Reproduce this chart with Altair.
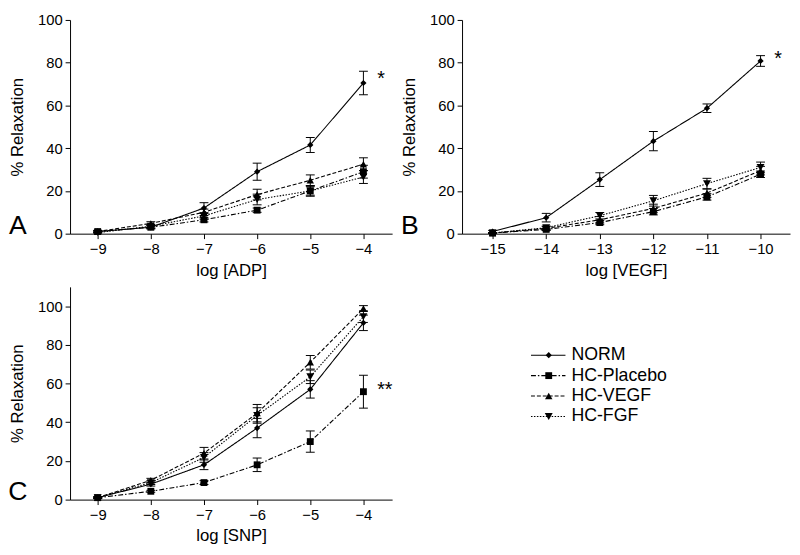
import altair as alt
import pandas as pd

FONT = "Liberation Sans"

series = ["NORM", "HC-Placebo", "HC-VEGF", "HC-FGF"]
shapes = ["diamond", "square", "triangle-up", "triangle-down"]
dashes = [[1, 0], [5, 2, 1.5, 2], [4, 2], [1.5, 1.5]]
sizes = [40, 65, 55, 55]

# Panel A: ADP
x_adp = [-9, -8, -7, -6, -5, -4]
adp_norm = [1, 3, 12, 29, 41.5, 70.5]
adp_norm_err = [0.5, 0.8, 2.5, 4, 3.5, 5.5]
adp_placebo = [1, 3, 6.5, 11, 20, 29]
adp_placebo_err = [0.3, 0.5, 1, 1, 2, 3]
adp_vegf = [1, 4.8, 10, 18.3, 25, 32.5]
adp_vegf_err = [0.3, 0.8, 1.5, 2.5, 2.5, 3]
adp_fgf = [0.5, 3.5, 8.3, 16, 20, 26.5]
adp_fgf_err = [0.3, 0.8, 1.5, 2.5, 2.5, 3]

# Panel B: VEGF
x_vegf = [-15, -14, -13, -12, -11, -10]
vegf_norm = [1, 7.5, 25.3, 43.3, 58.7, 80.8]
vegf_norm_err = [0.5, 2, 3.2, 4.5, 2, 2.5]
vegf_placebo = [0.3, 2, 5.2, 10.3, 17.2, 27.8]
vegf_placebo_err = [0.2, 0.5, 1, 1.5, 1.5, 1.5]
vegf_vegf = [0.3, 2.5, 6.5, 11.8, 19, 29.5]
vegf_vegf_err = [0.2, 0.8, 1.5, 2, 2, 2]
vegf_fgf = [0.3, 2.8, 8.4, 15.4, 23.4, 31]
vegf_fgf_err = [0.2, 0.8, 1.5, 2.5, 2.5, 2.5]

# Panel C: SNP
x_snp = [-9, -8, -7, -6, -5, -4]
snp_norm = [1, 8, 18, 37, 57, 91.4]
snp_norm_err = [0.5, 1, 2.5, 5, 4.5, 4]
snp_placebo = [1, 4.3, 8.8, 18, 30, 55.8]
snp_placebo_err = [0.3, 0.5, 1, 3.5, 5.5, 8.5]
snp_vegf = [1, 10, 24, 44.7, 71, 98.8]
snp_vegf_err = [0.3, 1, 3, 4.5, 3.5, 1.5]
snp_fgf = [1, 8.8, 21.8, 43.5, 63.5, 94.6]
snp_fgf_err = [0.3, 1, 2.5, 4, 3.5, 3]


def long_df(xs, vals, errs):
    rows = []
    for s, v, e in zip(series, vals, errs):
        for xi, yi, ei in zip(xs, v, e):
            rows.append({"x": xi, "y": yi, "lo": yi - ei, "hi": yi + ei, "series": s})
    return pd.DataFrame(rows)


def axis_x(title, ticks):
    return alt.Axis(values=ticks, title=title, grid=False, tickSize=5, format="d",
                    labelFontSize=15, titleFontSize=17, labelFont=FONT, titleFont=FONT,
                    titleFontWeight="normal", labelColor="black", titleColor="black",
                    domainColor="black", tickColor="black", labelPadding=3, titlePadding=6,
                    labelFlush=False)


def axis_y():
    return alt.Axis(values=[0, 20, 40, 60, 80, 100], title="% Relaxation", grid=False,
                    tickSize=5, labelFontSize=15, titleFontSize=17, labelFont=FONT,
                    titleFont=FONT, titleFontWeight="normal", labelColor="black",
                    titleColor="black", domainColor="black", tickColor="black",
                    labelPadding=3, titlePadding=11, labelFlush=False)


def panel(xs, vals, errs, xtitle, xdomain, ymax, letter, star, star_y, w, h, star_dx):
    df = long_df(xs, vals, errs)
    X = alt.X("x:Q", scale=alt.Scale(domain=xdomain, nice=False, zero=False),
              axis=axis_x(xtitle, xs))
    Y = alt.Y("y:Q", scale=alt.Scale(domain=[0, ymax], nice=False), axis=axis_y())
    base = alt.Chart(df)
    dash = alt.StrokeDash("series:N", scale=alt.Scale(domain=series, range=dashes), legend=None)
    lines = base.mark_line(color="black", strokeWidth=1.1).encode(x=X, y=Y, strokeDash=dash,
                                                                 detail="series:N")
    rules = base.mark_rule(color="black", strokeWidth=1).encode(x="x:Q", y="lo:Q", y2="hi:Q")
    cap_lo = base.mark_tick(orient="horizontal", size=9, thickness=1, color="black",
                            opacity=1).encode(x="x:Q", y="lo:Q")
    cap_hi = base.mark_tick(orient="horizontal", size=9, thickness=1, color="black",
                            opacity=1).encode(x="x:Q", y="hi:Q")
    pts = base.mark_point(filled=True, color="black", opacity=1).encode(
        x="x:Q", y="y:Q",
        shape=alt.Shape("series:N", scale=alt.Scale(domain=series, range=shapes), legend=None),
        size=alt.Size("series:N", scale=alt.Scale(domain=series, range=sizes), legend=None),
    )
    sdf = pd.DataFrame({"x": [xs[-1]], "y": [star_y], "t": [star]})
    stars = alt.Chart(sdf).mark_text(fontSize=20, font=FONT, align="left", baseline="middle",
                                     dx=star_dx, dy=1, color="black").encode(
        x="x:Q", y="y:Q", text="t:N")
    ldf = pd.DataFrame({"t": [letter]})
    let = alt.Chart(ldf).mark_text(fontSize=27, font=FONT, align="center",
                                   baseline="alphabetic", color="black").encode(
        x=alt.value(-53), y=alt.value(h), text="t:N")
    return alt.layer(lines, rules, cap_lo, cap_hi, pts, stars, let).properties(width=w, height=h)


pA = panel(x_adp, [adp_norm, adp_placebo, adp_vegf, adp_fgf],
           [adp_norm_err, adp_placebo_err, adp_vegf_err, adp_fgf_err],
           "log [ADP]", [-9.52, -3.46], 100, "A", "*", 73, 327, 217, 14)
pB = panel(x_vegf, [vegf_norm, vegf_placebo, vegf_vegf, vegf_fgf],
           [vegf_norm_err, vegf_placebo_err, vegf_vegf_err, vegf_fgf_err],
           "log [VEGF]", [-15.57, -9.45], 100, "B", "*", 82, 333, 217, 14)
pC = panel(x_snp, [snp_norm, snp_placebo, snp_vegf, snp_fgf],
           [snp_norm_err, snp_placebo_err, snp_vegf_err, snp_fgf_err],
           "log [SNP]", [-9.52, -3.46], 110, "C", "**", 57, 327, 216, 14)

legdf = pd.DataFrame({"series": series})
LY = alt.Y("series:N", sort=series, scale=alt.Scale(domain=series, range=[59, 142]), axis=None)
ldash = alt.StrokeDash("series:N", scale=alt.Scale(domain=series, range=dashes), legend=None)
leg_lines = alt.Chart(legdf).mark_rule(color="black", strokeWidth=1.1).encode(
    x=alt.value(132), x2=alt.value(167), y=LY, strokeDash=ldash)
leg_pts = alt.Chart(legdf).mark_point(filled=True, color="black", opacity=1).encode(
    x=alt.value(150), y=LY,
    shape=alt.Shape("series:N", scale=alt.Scale(domain=series, range=shapes), legend=None),
    size=alt.Size("series:N", scale=alt.Scale(domain=series, range=sizes), legend=None))
leg_txt = alt.Chart(legdf).mark_text(fontSize=18, font=FONT, align="left", baseline="middle",
                                     color="black").encode(
    x=alt.value(173), y=LY, text="series:N")
legend = alt.layer(leg_lines, leg_pts, leg_txt).properties(width=300, height=216)

row1 = alt.hconcat(pA, pB, spacing=8)
row2 = alt.hconcat(pC, legend, spacing=8)
chart = alt.vconcat(row1, row2, spacing=9).properties(
    padding={"left": 0, "top": 1, "right": 2, "bottom": 0}
).configure_view(stroke=None).resolve_scale(shape="independent", size="independent",
                                             strokeDash="independent")

chart.save("out.html", embed_options={"renderer": "svg", "actions": False})
